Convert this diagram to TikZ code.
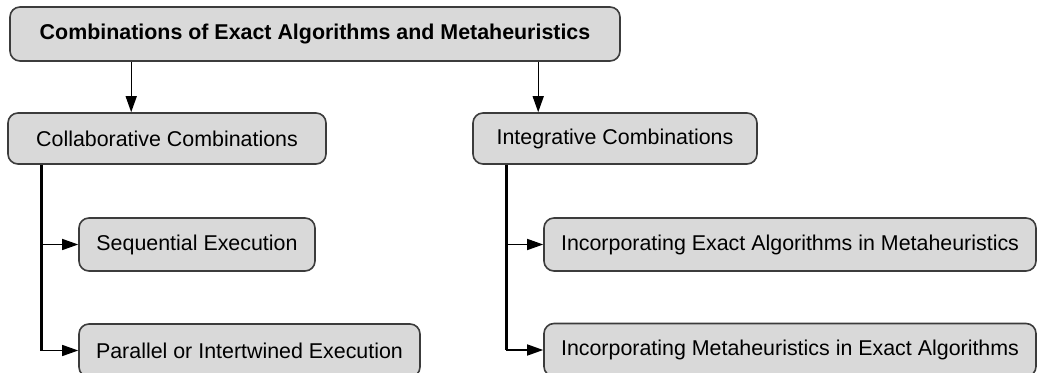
\documentclass[tikz,border=0pt]{standalone}
\usepackage{fontspec}
\setmainfont{Liberation Sans}
\usetikzlibrary{arrows.meta, positioning}
\definecolor{boxgray}{RGB}{217,217,217}
\definecolor{boxline}{RGB}{60,60,60}

\begin{document}
\begin{tikzpicture}[
  x=0.5pt, y=-0.5pt,
  box/.style={draw=boxline, line width=0.8pt, fill=boxgray, rounded corners=5pt,
              inner sep=0pt, font=\fontsize{10.7}{13}\selectfont},
  root/.style={box, minimum width=305pt, minimum height=27pt,
               font=\fontsize{10.7}{13}\selectfont\bfseries},
  cat/.style={box, minimum height=25.5pt},
  leaf/.style={box, minimum height=26.5pt},
  arr/.style={-{Triangle[length=8pt, width=5.5pt]}, line width=0.7pt},
  trunk/.style={line width=1.3pt},
]
\useasboundingbox (0,0) rectangle (1037,373);
\clip (0,0) rectangle (1037,373);

% --- root ---
\node[root] (root) at (315, 34) {Combinations of Exact Algorithms and Metaheuristics};

% --- two kinds ---
\node[cat, minimum width=159pt] (collab) at (167, 138.5) {Collaborative Combinations};
\node[cat, minimum width=142pt] (integ) at (615, 138.5) {Integrative Combinations};

\coordinate (lroot) at ([xshift=61pt]root.south west);
\coordinate (rroot) at ([xshift=264.5pt]root.south west);
\draw[arr] (lroot) -- (lroot |- collab.north);
\draw[arr] (rroot) -- (rroot |- integ.north);

% --- collaborative (left) ---
\node[leaf, minimum width=118pt] (seq) at (197, 244.5) {Sequential Execution};
\node[leaf, minimum width=170.5pt] (par) at (249.5, 350.5) {Parallel or Intertwined Execution};

\coordinate (ltrunk) at ([xshift=17pt]collab.south west);
\draw[trunk] (ltrunk) -- (ltrunk |- par.west);
\draw[arr] (ltrunk |- seq.west) -- (seq.west);
\draw[arr] (ltrunk |- par.west) -- (par.west);

% --- integrative (right) ---
\node[leaf, minimum width=246pt] (incx) at (790, 244.5) {Incorporating Exact Algorithms in Metaheuristics};
\node[leaf, minimum width=246pt] (incm) at (790, 350) {Incorporating Metaheuristics in Exact Algorithms};

\coordinate (rtrunk) at ([xshift=17pt]integ.south west);
\draw[trunk] (rtrunk) -- (rtrunk |- incm.west);
\draw[arr] (rtrunk |- incx.west) -- (incx.west);
\draw[arr] (rtrunk |- incm.west) -- (incm.west);

\end{tikzpicture}
\end{document}
